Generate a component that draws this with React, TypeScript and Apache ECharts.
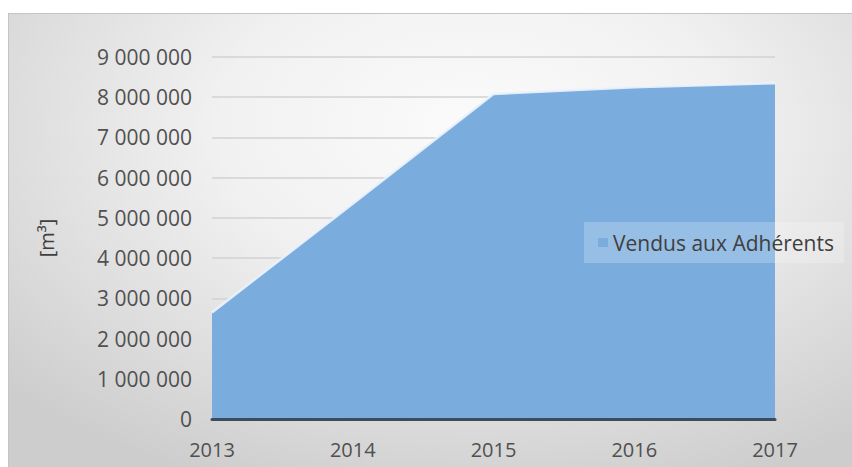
import React, { useEffect, useRef } from "react";
import * as echarts from "echarts";

const years = ["2013", "2014", "2015", "2016", "2017"];
const vendus = [2650000, 5350000, 8080000, 8250000, 8350000];
const seriesName = "Vendus aux Adhérents";
const yTitle = "[m³]";

const fmt = (v: number) => String(v).replace(/\B(?=(\d{3})+(?!\d))/g, " ");

export default function App() {
  const ref = useRef<HTMLDivElement>(null);
  useEffect(() => {
    if (!ref.current) return;
    const chart = echarts.init(ref.current, null, { renderer: "svg" });
    const font = "'Open Sans', 'Noto Sans', sans-serif";
    chart.setOption({
      animation: false,
      textStyle: { fontFamily: font },
      grid: { left: 203, right: 77, top: 43, bottom: 48 },
      legend: {
        data: [seriesName],
        left: 575,
        top: 208,
        orient: "vertical",
        icon: "rect",
        itemWidth: 10,
        itemHeight: 9,
        itemGap: 4,
        padding: [10, 10, 10, 14],
        backgroundColor: "rgba(255,255,255,0.22)",
        textStyle: { color: "#3f3f3f", fontSize: 21, fontFamily: font },
      },
      xAxis: {
        type: "category",
        data: years,
        boundaryGap: false,
        axisLine: { show: true, lineStyle: { color: "#3e4b5e", width: 3 } },
        axisTick: { show: false },
        axisLabel: { color: "#505050", fontSize: 20, margin: 20, fontFamily: font },
        splitLine: { show: false },
        z: 5,
      },
      yAxis: {
        type: "value",
        min: 0,
        max: 9000000,
        interval: 1000000,
        name: yTitle,
        nameLocation: "middle",
        nameGap: 156,
        nameTextStyle: { color: "#404040", fontSize: 20, fontFamily: font },
        axisLine: { show: false },
        axisTick: { show: false },
        axisLabel: { color: "#505050", fontSize: 21, margin: 20, fontFamily: font, formatter: (v: number) => fmt(v) },
        splitLine: { lineStyle: { color: "#d2d2d2", width: 1.5 } },
      },
      series: [
        {
          name: seriesName,
          type: "line",
          data: vendus,
          showSymbol: false,
          symbol: "rect",
          lineStyle: { color: "rgba(235,243,252,0.9)", width: 2.5 },
          itemStyle: { color: "#7aacdd" },
          areaStyle: { color: "#7aacdd", opacity: 1 },
        },
      ],
    });
    return () => chart.dispose();
  }, []);
  return (
    <div
      style={{
        position: "absolute",
        left: 8,
        top: 13,
        width: 844,
        height: 454,
        borderTop: "1px solid #c4c4c4",
        borderLeft: "1px solid #c4c4c4",
        boxSizing: "border-box",
        background:
          "radial-gradient(ellipse 75% 85% at 55% 25%, #fbfbfb 0%, #f1f1f1 40%, #dcdcdc 75%, #cdcdcd 100%)",
      }}
    >
      <div ref={ref} style={{ width: 843, height: 453 }} />
    </div>
  );
}
